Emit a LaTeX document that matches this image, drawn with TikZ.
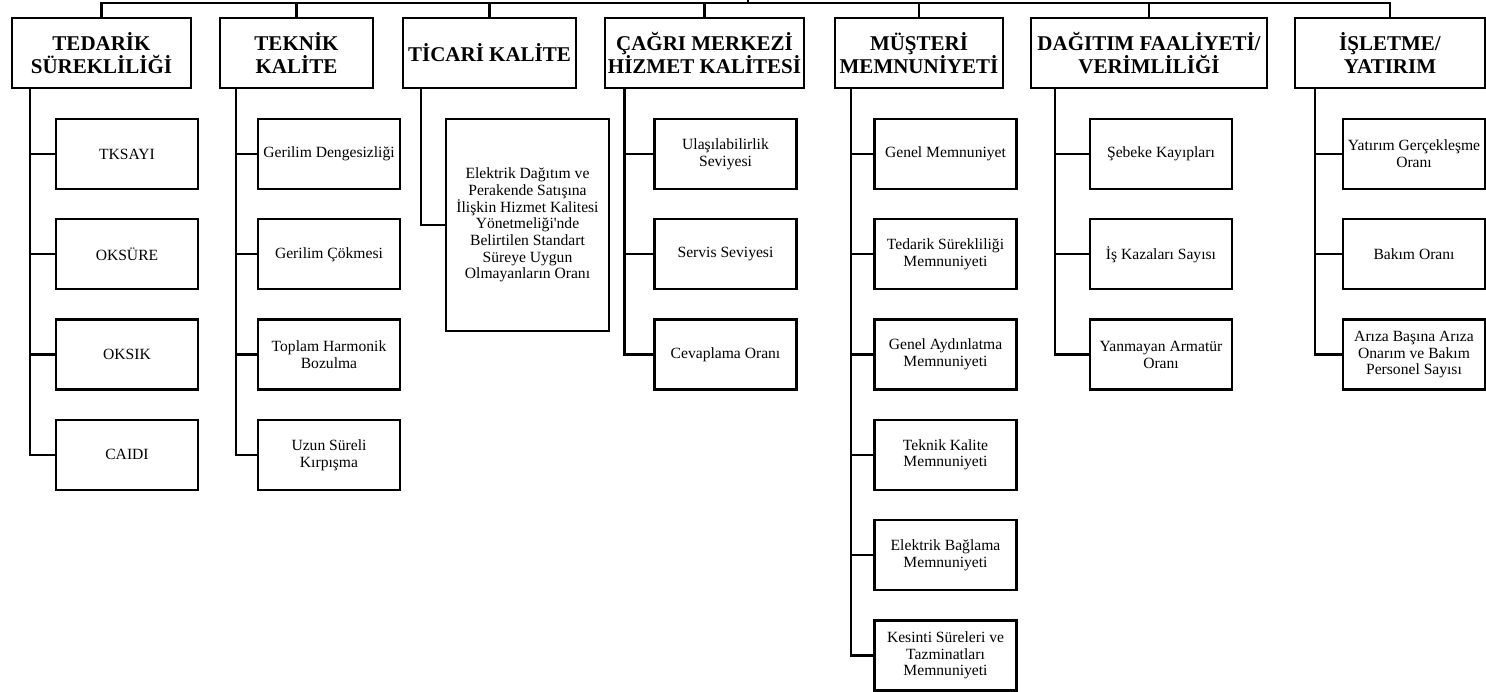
\documentclass[tikz,border=0pt]{standalone}
\usepackage{fontspec}
\setmainfont{Liberation Serif}[Ligatures=TeXOff]
\begin{document}
\begin{tikzpicture}[x=1pt,y=-1pt,
  head/.style={draw, line width=2.4pt, align=center, inner sep=0pt,
    minimum height=70pt, font=\fontsize{21}{23}\selectfont\bfseries},
  leaf/.style={draw, line width=2.4pt, align=center, inner sep=0pt,
    minimum width=142pt, minimum height=70pt, font=\fontsize{15.6}{16.7}\selectfont},
  link/.style={line width=2.2pt}]
\useasboundingbox (0,0) rectangle (1486,692);

% main categories
\node[head, minimum width=179pt] (T1) at (101.5,53) {TEDARİK\\SÜREKLİLİĞİ};
\node[head, minimum width=153pt] (T2) at (296.5,53) {TEKNİK\\KALİTE};
\node[head, minimum width=173pt] (T3) at (489.5,53) {TİCARİ KALİTE};
\node[head, minimum width=199pt] (T4) at (704.5,53) {ÇAĞRI MERKEZİ\\HİZMET KALİTESİ};
\node[head, minimum width=168pt] (T5) at (919,53) {MÜŞTERİ\\MEMNUNİYETİ};
\node[head, minimum width=236pt] (T6) at (1149,53) {DAĞITIM FAALİYETİ/\\VERİMLİLİĞİ};
\node[head, minimum width=190pt] (T7) at (1390,53) {İŞLETME/\\YATIRIM};

% supply continuity
\node[leaf] (a1) at (127,154) {TKSAYI};
\node[leaf] (a2) at (127,254.3) {OKSÜRE};
\node[leaf] (a3) at (127,354.6) {OKSIK};
\node[leaf] (a4) at (127,454.9) {CAIDI};

% technical quality
\node[leaf] (b1) at (329,154) {Gerilim Dengesizliği};
\node[leaf] (b2) at (329,254.3) {Gerilim Çökmesi};
\node[leaf] (b3) at (329,354.6) {Toplam Harmonik\\Bozulma};
\node[leaf] (b4) at (329,454.9) {Uzun Süreli\\Kırpışma};

% commercial quality
\node[leaf, minimum width=163pt, minimum height=212pt] (c1) at (527.5,225)
  {Elektrik Dağıtım ve\\Perakende Satışına\\İlişkin Hizmet Kalitesi\\Yönetmeliği'nde\\Belirtilen Standart\\Süreye Uygun\\Olmayanların Oranı};

% call centre
\node[leaf] (d1) at (725.5,154) {Ulaşılabilirlik\\Seviyesi};
\node[leaf] (d2) at (725.5,254.3) {Servis Seviyesi};
\node[leaf] (d3) at (725.5,354.6) {Cevaplama Oranı};

% customer satisfaction
\node[leaf] (e1) at (945.5,154) {Genel Memnuniyet};
\node[leaf] (e2) at (945.5,254.3) {Tedarik Sürekliliği\\Memnuniyeti};
\node[leaf] (e3) at (945.5,354.6) {Genel Aydınlatma\\Memnuniyeti};
\node[leaf] (e4) at (945.5,454.9) {Teknik Kalite\\Memnuniyeti};
\node[leaf] (e5) at (945.5,555.2) {Elektrik Bağlama\\Memnuniyeti};
\node[leaf] (e6) at (945.5,655.5) {Kesinti Süreleri ve\\Tazminatları\\Memnuniyeti};

% distribution activity
\node[leaf] (f1) at (1161,154) {Şebeke Kayıpları};
\node[leaf] (f2) at (1161,254.3) {İş Kazaları Sayısı};
\node[leaf] (f3) at (1161,354.6) {Yanmayan Armatür\\Oranı};

% operation / investment
\node[leaf] (g1) at (1414,154) {Yatırım Gerçekleşme\\Oranı};
\node[leaf] (g2) at (1414,254.3) {Bakım Oranı};
\node[leaf] (g3) at (1414,354.6) {Arıza Başına Arıza\\Onarım ve Bakım\\Personel Sayısı};

% top bus
\coordinate (bus) at (0,3);
\coordinate (root) at (748,0);
\draw[link] (T1.north) -- (T1.north |- bus) -- (T7.north |- bus) -- (T7.north);
\foreach \t in {T2,T3,T4,T5,T6}
  \draw[link] (\t.north) -- (\t.north |- bus);
\draw[link] (root) -- (root |- bus);

% trunk positions
\coordinate (k1) at (30,0);
\coordinate (k2) at (236,0);
\coordinate (k3) at (421,0);
\coordinate (k4) at (624.5,0);
\coordinate (k5) at (851,0);
\coordinate (k6) at (1055,0);
\coordinate (k7) at (1315,0);

% trunks down to the last child
\draw[link] (k1 |- T1.south) |- (a4.west);
\draw[link] (k2 |- T2.south) |- (b4.west);
\draw[link] (k3 |- T3.south) |- (c1.west);
\draw[link] (k4 |- T4.south) |- (d3.west);
\draw[link] (k5 |- T5.south) |- (e6.west);
\draw[link] (k6 |- T6.south) |- (f3.west);
\draw[link] (k7 |- T7.south) |- (g3.west);

% branches to the other children
\foreach \c in {a1,a2,a3} \draw[link] (k1 |- \c.west) -- (\c.west);
\foreach \c in {b1,b2,b3} \draw[link] (k2 |- \c.west) -- (\c.west);
\foreach \c in {d1,d2} \draw[link] (k4 |- \c.west) -- (\c.west);
\foreach \c in {e1,e2,e3,e4,e5} \draw[link] (k5 |- \c.west) -- (\c.west);
\foreach \c in {f1,f2} \draw[link] (k6 |- \c.west) -- (\c.west);
\foreach \c in {g1,g2} \draw[link] (k7 |- \c.west) -- (\c.west);
\end{tikzpicture}
\end{document}
